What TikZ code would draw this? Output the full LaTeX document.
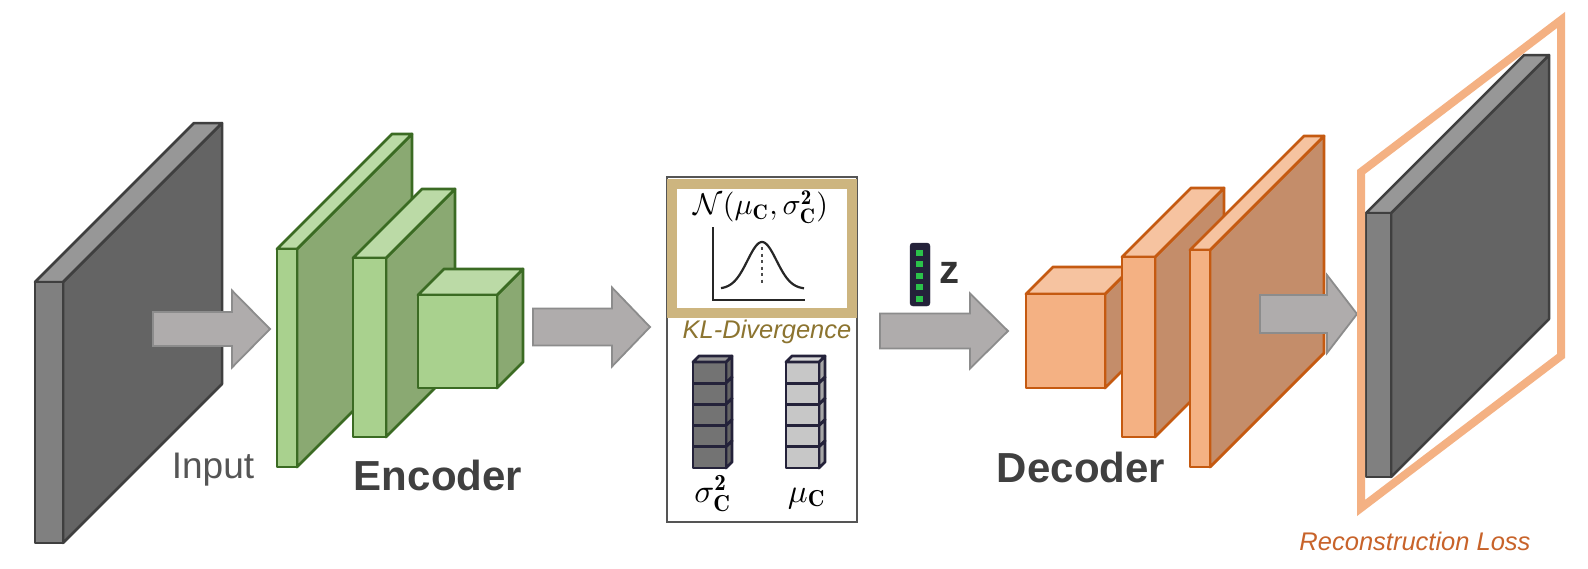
\documentclass[tikz,border=0pt]{standalone}
\usepackage{fontspec}
\newfontfamily\lsans{Liberation Sans}
\definecolor{gfront}{HTML}{808080}
\definecolor{gside}{HTML}{646464}
\definecolor{gtop}{HTML}{979797}
\definecolor{gline}{HTML}{3F3F3F}
\definecolor{efront}{HTML}{A9D18E}
\definecolor{eside}{HTML}{8AA972}
\definecolor{etop}{HTML}{BBDAA6}
\definecolor{eline}{HTML}{3B6B23}
\definecolor{dfront}{HTML}{F4B183}
\definecolor{dside}{HTML}{C48D6A}
\definecolor{dtop}{HTML}{F6C3A0}
\definecolor{dline}{HTML}{C55A11}
\definecolor{afill}{HTML}{AFACAC}
\definecolor{aline}{HTML}{8C8C8C}
\definecolor{gold}{HTML}{CDB57F}
\definecolor{kltext}{HTML}{8C7430}
\definecolor{rltext}{HTML}{C8632A}
\definecolor{navy}{HTML}{24223A}
\definecolor{zgreen}{HTML}{2BC24A}
\definecolor{labtext}{HTML}{404040}
\definecolor{intext}{HTML}{555555}
\tikzset{
  arrowsty/.style={fill=afill,draw=aline,line width=1.8pt,line join=miter},
  vecsty/.style={draw=navy,line width=2.8pt,line join=round}
}
\newcommand{\myslab}[9]{%
  \filldraw[fill=#7,draw=#9] ({#1+#3},{#2}) -- ({#1+#3+#5},{#2-#5}) -- ({#1+#3+#5},{#2+#4-#5}) -- ({#1+#3},{#2+#4}) -- cycle;
  \filldraw[fill=#8,draw=#9] (#1,#2) -- ({#1+#5},{#2-#5}) -- ({#1+#3+#5},{#2-#5}) -- ({#1+#3},{#2}) -- cycle;
  \filldraw[fill=#6,draw=#9] (#1,#2) rectangle ({#1+#3},{#2+#4});
}
\newcommand{\blockarr}[6]{%
  \filldraw[arrowsty] (#1,{#4-#5}) -- (#2,{#4-#5}) -- (#2,{#4-#6}) -- (#3,#4) -- (#2,{#4+#6}) -- (#2,{#4+#5}) -- (#1,{#4+#5}) -- cycle;
}
\newcommand{\vecbar}[4]{%
  \foreach \k in {0,...,4}{
    \pgfmathsetmacro\ya{362+21.2*\k}
    \pgfmathsetmacro\yb{362+21.2*(\k+1)}
    \filldraw[vecsty,fill=#3] ({#1+33},\ya) -- ({#1+39},{\ya-6}) -- ({#1+39},{\yb-6}) -- ({#1+33},\yb) -- cycle;
    \filldraw[vecsty,fill=#2] (#1,\ya) rectangle ({#1+33},\yb);
  }
  \filldraw[vecsty,fill=#4] (#1,362) -- ({#1+6},356) -- ({#1+39},356) -- ({#1+33},362) -- cycle;
}
\begin{document}
\begin{tikzpicture}[x=1pt,y=-1pt]
\useasboundingbox[fill=white] (0,0) rectangle (1588,568);

% input slab
\begin{scope}[line width=2.5pt,line join=round]
\myslab{35}{282}{28}{261}{159}{gfront}{gside}{gtop}{gline}
\end{scope}
\blockarr{153}{232}{270}{329}{17}{38.5}
\node[anchor=base,text=intext,font=\lsans\fontsize{37}{40}\selectfont] (input) at (213,478) {Input};

% encoder
\begin{scope}[line width=2.8pt,line join=round]
\myslab{277}{249}{20}{218}{115}{efront}{eside}{etop}{eline}
\myslab{353}{258}{33}{179}{69}{efront}{eside}{etop}{eline}
\myslab{418}{295}{79}{93}{26}{efront}{eside}{etop}{eline}
\end{scope}
\node[anchor=base,text=labtext,font=\lsans\bfseries\fontsize{42}{46}\selectfont] (enc) at (438,490) {Encoder};
\blockarr{533}{612}{650}{327}{18.5}{39.5}

% latent box
\draw[draw=intext,line width=1.6pt] (667,177) rectangle (857,522);
\draw[draw=gold,line width=10pt] (672,184) rectangle (852,313);
\node[scale=3.0] (normal) at (761,207) {$\mathcal{N}(\mu_{\mathbf{C}},\sigma^{\mathbf{2}}_{\mathbf{C}})$};
\draw[line width=2.2pt,black!85] (713,227) -- (713,300) -- (805,300);
\draw[line width=2.2pt,black!85,domain=721:804,samples=70,smooth] plot (\x,{289-47*exp(-((\x-762)/14.5)^2/2)});
\draw[line width=2.4pt,black!70,dash pattern=on 3pt off 3.5pt] (762,247) -- (762,283);
\node[anchor=base,text=kltext,font=\lsans\itshape\fontsize{25.5}{28}\selectfont] (kl) at (767,338) {KL-Divergence};
\vecbar{693}{gfront!90!black}{gside}{gtop}
\vecbar{786}{black!22}{black!35}{black!15}
\node[anchor=base,scale=3.3] (sig) at (713,502) {$\sigma^{\mathbf{2}}_{\mathbf{C}}$};
\node[anchor=base,scale=3.3] (mu) at (807,502) {$\mu_{\mathbf{C}}$};

% z
\blockarr{880}{970}{1008}{331}{17.5}{37.5}
\filldraw[fill=navy,draw=navy,rounded corners=3pt] (910,243) rectangle (930,306);
\foreach \j in {0,...,4}{
  \fill[zgreen] (916,{249.5+11.5*\j}) rectangle (923,{255.5+11.5*\j});
}
\node[text=black!80,font=\lsans\bfseries\fontsize{40}{44}\selectfont] (z) at (949,273) {z};

% decoder
\begin{scope}[line width=2.8pt,line join=round]
\myslab{1026}{294}{79}{94}{27}{dfront}{dside}{dtop}{dline}
\myslab{1122}{257}{33}{180}{69}{dfront}{dside}{dtop}{dline}
\myslab{1190}{250}{20}{217}{114}{dfront}{dside}{dtop}{dline}
\end{scope}
\node[anchor=base,text=labtext,font=\lsans\bfseries\fontsize{42}{46}\selectfont] (dec) at (1081,482) {Decoder};
\blockarr{1260}{1327}{1357}{314}{19}{39}

% output
\begin{scope}[line width=2.5pt,line join=round]
\myslab{1366}{213}{25}{264}{158}{gfront}{gside}{gtop}{gline}
\end{scope}
\draw[dfront,line width=8pt,line join=miter] (1361,172) -- (1561,20) -- (1561,356) -- (1361,508) -- cycle;
\node[anchor=base,text=rltext,font=\lsans\itshape\fontsize{25.5}{28}\selectfont] (rl) at (1415,550) {Reconstruction Loss};
\end{tikzpicture}
\end{document}
